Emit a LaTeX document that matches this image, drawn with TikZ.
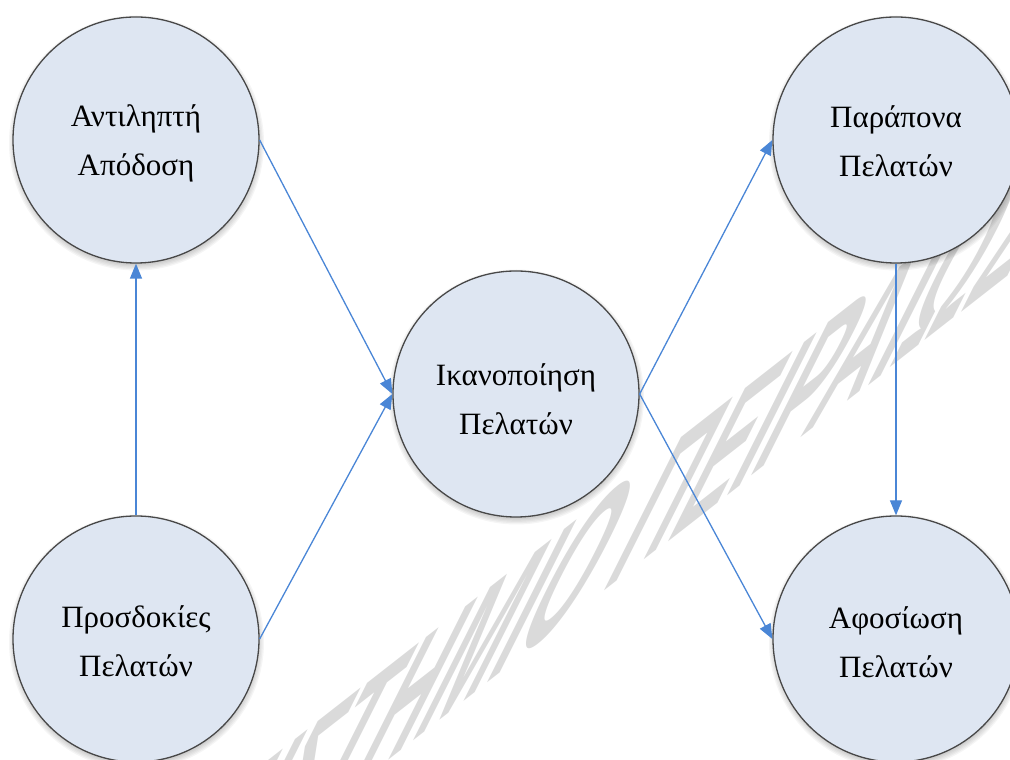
\documentclass[tikz,border=0pt]{standalone}
\usepackage{fontspec}
\setmainfont{Liberation Serif}
\newfontfamily\wmfont{Liberation Sans}
\usetikzlibrary{arrows.meta}

\definecolor{circfill}{RGB}{222,230,242}
\definecolor{circline}{RGB}{72,72,72}
\definecolor{linkblue}{RGB}{74,134,214}
\definecolor{wmgray}{RGB}{218,218,218}

\tikzset{
  bubble/.style={circle, draw=circline, line width=1.3pt, fill=circfill,
    minimum size=246pt, inner sep=0pt},
  word/.style={inner sep=0pt, anchor=base, font=\fontsize{31}{31}\selectfont},
  link/.style={draw=linkblue, line width=1.3pt,
    -{Triangle[length=15pt,width=12pt]}},
  haze/.style={fill=black, opacity=0.04}
}

% two centred lines of text in circle #1, lowered by #2
\newcommand\twolines[4]{%
  \node[word] (#1-a) at ([yshift={24.5-#2}]#1.center) {#3};
  \node[word] (#1-b) at ([yshift={-24.5-#2}]#1.center) {#4};}

\begin{document}
\begin{tikzpicture}[x=1pt,y=1pt]
  \useasboundingbox (0,0) rectangle (1010,760);
  \clip (0,0) rectangle (1010,760);

  % faint diagonal watermark behind everything
  \begin{scope}[shift={(493,128)}, cm={0.883,0.690,1.12,2.23,(0,0)}]
    \node[transform shape, text=wmgray, inner sep=0pt,
      font=\wmfont\bfseries\fontsize{100}{100}\selectfont] (wm) at (0,0)
      {ΠΑΝΕΠΙΣΤΗΜΙΟ ΠΕΙΡΑΙΩΣ};
  \end{scope}

  % soft shadows under the circles
  \foreach \cx/\cy in {136/620, 136/121, 516/366, 896/620, 896/121}
    \foreach \k in {0,...,5}
      \fill[haze] (\cx+0.5,\cy-3) circle ({121+\k*1.3});

  % the five circles
  \node[bubble] (perf)   at (136,620) {};
  \node[bubble] (expect) at (136,121) {};
  \node[bubble] (satis)  at (516,366) {};
  \node[bubble] (compl)  at (896,620) {};
  \node[bubble] (loyal)  at (896,121) {};

  \twolines{perf}{11}{Αντιληπτή}{Απόδοση}
  \twolines{expect}{13}{Προσδοκίες}{Πελατών}
  \twolines{satis}{16}{Ικανοποίηση}{Πελατών}
  \twolines{compl}{12.5}{Παράπονα}{Πελατών}
  \twolines{loyal}{14}{Αφοσίωση}{Πελατών}

  % connectors
  \draw[link] (expect.north) -- (perf.south);
  \draw[link] (perf.east) -- (satis.west);
  \draw[link] (expect.east) -- (satis.west);
  \draw[link] (satis.east) -- (compl.west);
  \draw[link] (satis.east) -- (loyal.west);
  \draw[link] (compl.south) -- (loyal.north);
\end{tikzpicture}
\end{document}
